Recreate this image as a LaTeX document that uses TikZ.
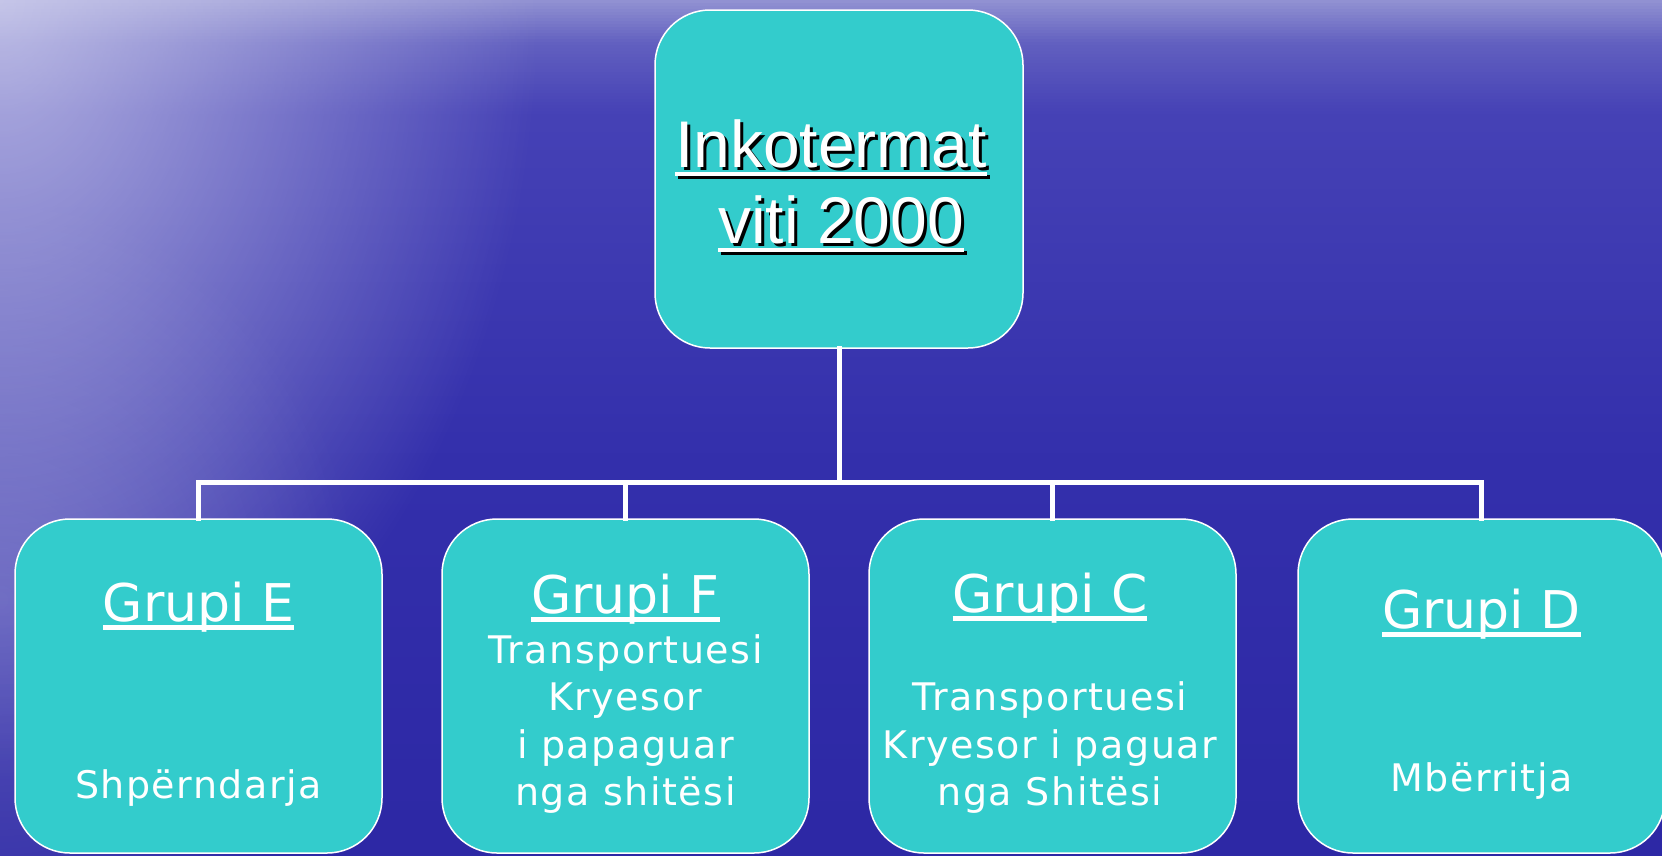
\documentclass[tikz,border=0pt]{standalone}
\usepackage{fontspec}
\setmainfont{DejaVu Sans}
\newfontfamily\topfont{Liberation Sans}
\newfontfamily\bodyfont[LetterSpace=4]{DejaVu Sans}
\usetikzlibrary{fadings}
\definecolor{haze}{RGB}{215,215,240}
\definecolor{boxteal}{RGB}{51,204,204}
\tikzfading[name=glowfade, inner color=transparent!0, outer color=transparent!100]
\newcommand{\myul}[3]{\setbox0=\hbox{#3}\leavevmode\rlap{\rule[#1]{\wd0}{#2}}\box0}
% vertical background segment: y0 y1 R0 G0 B0 R1 G1 B1
\newcommand{\seaseg}[8]{%
  \pgfmathtruncatemacro\nsteps{(#2-#1)/3}%
  \foreach \k in {0,...,\nsteps}{%
    \pgfmathsetmacro\fr{\k/\nsteps}%
    \pgfmathtruncatemacro\colR{#3+(#6-#3)*\fr}%
    \pgfmathtruncatemacro\colG{#4+(#7-#4)*\fr}%
    \pgfmathtruncatemacro\colB{#5+(#8-#5)*\fr}%
    \definecolor{stripc}{RGB}{\colR,\colG,\colB}%
    \fill[stripc] (0,{#1+\k*3}) rectangle (1662,{#1+\k*3+3.8});
  }}
\tikzset{
  groupbox/.style={draw=white, line width=1.5pt, fill=boxteal, rounded corners=55pt,
    minimum width=367pt, minimum height=334pt, inner sep=0pt},
  topbox/.style={draw=white, line width=1.5pt, fill=boxteal, rounded corners=55pt,
    minimum width=368pt, minimum height=338pt, inner sep=0pt},
  conn/.style={draw=white, line width=5pt, line cap=rect},
  toptxt/.style={anchor=base, inner sep=0pt, font=\topfont\fontsize{66}{76}\selectfont},
  headtxt/.style={anchor=base, inner sep=0pt, text=white, font=\fontsize{52}{60}\selectfont},
  bodytxt/.style={anchor=base, inner sep=0pt, text=white, font=\bodyfont\fontsize{38}{47}\selectfont},
}
\begin{document}
\begin{tikzpicture}[x=1pt,y=-1pt]
\useasboundingbox (0,0) rectangle (1662,855);
% background
\begin{scope}
\clip (0,0) rectangle (1662,855);
\seaseg{0}{42}{145}{145}{210}{98}{96}{192}
\seaseg{42}{111}{98}{96}{192}{70}{66}{182}
\seaseg{111}{450}{70}{66}{182}{52}{48}{172}
\seaseg{450}{858}{52}{48}{172}{45}{40}{165}
\fill[haze, path fading=glowfade, opacity=0.25] (0,600) ellipse (360 and 400);
\fill[haze, path fading=glowfade, opacity=0.75] (0,0) ellipse (540 and 780);
\end{scope}
% boxes
\node[topbox] (top) at (839,179) {};
\node[groupbox] (ge) at (198.5,686) {};
\node[groupbox] (gf) at (625.5,686) {};
\node[groupbox] (gc) at (1052.5,686) {};
\node[groupbox] (gd) at (1481.5,686) {};
% connectors
\draw[conn] (top.south) -- ++(0,134) coordinate (hub);
\draw[conn] (hub) -| (ge.north);
\draw[conn] (hub) -| (gf.north);
\draw[conn] (hub) -| (gc.north);
\draw[conn] (hub) -| (gd.north);
% top text with shadow
\node[toptxt, text=black] (t1s) at (834,170) {\myul{-9pt}{4pt}{Inkotermat}};
\node[toptxt, text=white] (t1) at (831,167) {\myul{-9pt}{4pt}{Inkotermat}};
\node[toptxt, text=black] (t2s) at (844,246) {\myul{-9pt}{4pt}{viti 2000}};
\node[toptxt, text=white] (t2) at (841,243) {\myul{-9pt}{4pt}{viti 2000}};
% group E
\node[headtxt] (eh) at (198.5,621) {\myul{-8.5pt}{4.5pt}{Grupi E}};
\node[bodytxt] (e1) at (198.5,798) {Shpërndarja};
% group F
\node[headtxt] (fh) at (625.5,613) {\myul{-8.5pt}{4.5pt}{Grupi F}};
\node[bodytxt] (f1) at (625.5,663) {Transportuesi};
\node[bodytxt] (f2) at (625.5,710) {Kryesor};
\node[bodytxt] (f3) at (625.5,758) {i papaguar};
\node[bodytxt] (f4) at (625.5,805) {nga shitësi};
% group C
\node[headtxt] (ch) at (1050,612) {\myul{-8.5pt}{4.5pt}{Grupi C}};
\node[bodytxt] (c1) at (1050,710) {Transportuesi};
\node[bodytxt] (c2) at (1050,758) {Kryesor i paguar};
\node[bodytxt] (c3) at (1050,805) {nga Shitësi};
% group D
\node[headtxt] (dh) at (1481.5,628) {\myul{-8.5pt}{4.5pt}{Grupi D}};
\node[bodytxt] (d1) at (1481.5,791) {Mbërritja};
\end{tikzpicture}
\end{document}
